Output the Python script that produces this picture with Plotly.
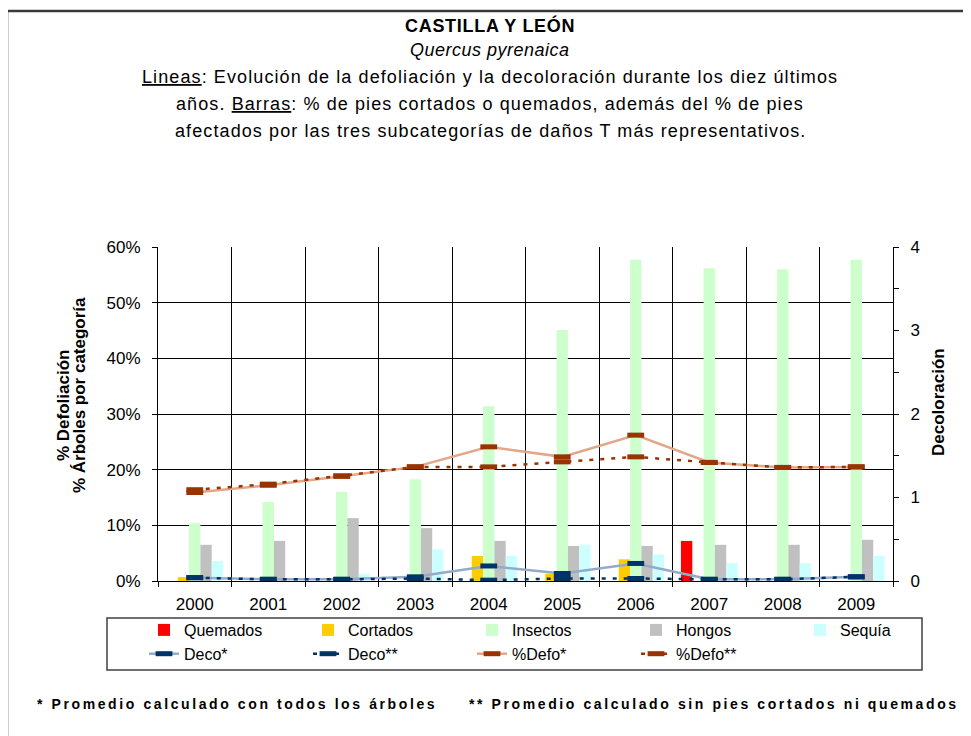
import plotly.graph_objects as go

# ---------------- data ----------------
years = ["2000", "2001", "2002", "2003", "2004", "2005", "2006", "2007", "2008", "2009"]

quemados = [0, 0, 0, 0, 0, 0, 0, 7.2, 0, 0]
cortados = [0.7, 0, 0, 0, 4.5, 1.3, 3.9, 0, 0, 0]
insectos = [10.4, 14.2, 16.0, 18.3, 31.4, 45.1, 57.7, 56.2, 56.0, 57.7]
hongos = [6.5, 7.2, 11.3, 9.5, 7.2, 6.3, 6.3, 6.5, 6.5, 7.4]
sequia = [3.6, 0, 1.3, 5.7, 4.5, 6.5, 4.8, 3.2, 3.2, 4.5]

deco_all = [0.04, 0.02, 0.02, 0.05, 0.18, 0.09, 0.21, 0.02, 0.02, 0.05]
deco_sin = [0.04, 0.02, 0.02, 0.03, 0.01, 0.03, 0.03, 0.02, 0.02, 0.05]
defo_all = [15.9, 17.2, 18.8, 20.5, 24.1, 22.3, 26.2, 21.3, 20.4, 20.5]
defo_sin = [16.4, 17.4, 18.9, 20.5, 20.5, 21.4, 22.3, 21.3, 20.4, 20.5]

left_ticks = [0, 10, 20, 30, 40, 50, 60]
left_labels = [f"{v}%" for v in left_ticks]
right_ticks = [0, 1, 2, 3, 4]

# ---------------- layout geometry (screen px; page body has 8px margin) ----------------
OFF = 8
FW, FH = 971 - OFF, 736 - OFF
PLOT_L, PLOT_R, PLOT_T, PLOT_B = 158, 893, 247, 581
ML, MT = PLOT_L - OFF, PLOT_T - OFF
MR = FW - (PLOT_R - OFF)
MB = FH - (PLOT_B - OFF)
PW = PLOT_R - PLOT_L
PH = PLOT_B - PLOT_T


def px_x(px):
    return (px - PLOT_L) / PW


def px_y(py):
    return (PLOT_B - py) / PH


FONT = "Arial, Liberation Sans, sans-serif"

fig = go.Figure()

bar_specs = [
    ("Quemados", quemados, "#FF0000"),
    ("Cortados", cortados, "#FFCC00"),
    ("Insectos", insectos, "#CCFFCC"),
    ("Hongos", hongos, "#C0C0C0"),
    ("Sequía", sequia, "#CCFFFF"),
]
for name, vals, col in bar_specs:
    fig.add_trace(go.Bar(x=years, y=vals, name=name, marker=dict(color=col, line=dict(width=0)),
                         yaxis="y"))

marker_navy = dict(symbol="line-ew", size=12, line=dict(width=5, color="#003366"))
marker_brown = dict(symbol="line-ew", size=12, line=dict(width=5, color="#993300"))

fig.add_trace(go.Scatter(x=years, y=deco_all, name="Deco*", mode="lines+markers",
                         line=dict(color="#93ABC9", width=2.5), marker=marker_navy, yaxis="y2"))
fig.add_trace(go.Scatter(x=years, y=deco_sin, name="Deco**", mode="lines+markers",
                         line=dict(color="#003366", width=2.5, dash="4px,7px"), marker=marker_navy,
                         yaxis="y2"))
fig.add_trace(go.Scatter(x=years, y=defo_all, name="%Defo*", mode="lines+markers",
                         line=dict(color="#E2A68A", width=2.5), marker=marker_brown, yaxis="y"))
fig.add_trace(go.Scatter(x=years, y=defo_sin, name="%Defo**", mode="lines+markers",
                         line=dict(color="#993300", width=2.5, dash="4px,7px"), marker=marker_brown,
                         yaxis="y"))

annotations = []
title_style = "letter-spacing:1.1px"
title_lines = [
    ("<b>CASTILLA Y LEÓN</b>", 25, 0.7),
    ("<i>Quercus pyrenaica</i>", 50, 0.5),
    ("<u>Lineas</u>: Evolución de la defoliación y la decoloración durante los diez últimos", 77, 1.1),
    ("años. <u>Barras</u>: % de pies cortados o quemados, además del % de pies", 104, 1.1),
    ("afectados por las tres subcategorías de daños T más representativos.", 131, 1.1),
]
for txt, py, ls in title_lines:
    annotations.append(dict(text=f"<span style='letter-spacing:{ls}px'>{txt}</span>",
                            x=px_x(490), y=px_y(py), xref="paper", yref="paper",
                            xanchor="center", yanchor="middle", showarrow=False,
                            font=dict(family=FONT, size=18, color="black")))

# axis titles
annotations.append(dict(text="<b>% Defoliación</b>", x=px_x(63), y=px_y(406), xref="paper", yref="paper",
                        textangle=-90, showarrow=False, xanchor="center", yanchor="middle",
                        font=dict(family=FONT, size=17, color="black")))
annotations.append(dict(text="<b>% Árboles por categoría</b>", x=px_x(79), y=px_y(395), xref="paper",
                        yref="paper", textangle=-90, showarrow=False, xanchor="center",
                        yanchor="middle", font=dict(family=FONT, size=17, color="black")))
annotations.append(dict(text="<b>Decoloración</b>", x=px_x(938), y=px_y(402), xref="paper", yref="paper",
                        textangle=-90, showarrow=False, xanchor="center", yanchor="middle",
                        font=dict(family=FONT, size=17, color="black")))

# footnotes
foot_style = "letter-spacing:2.6px"
annotations.append(dict(text=f"<span style='{foot_style}'><b>* Promedio calculado con todos los árboles</b></span>",
                        x=px_x(35), y=px_y(704), xref="paper", yref="paper", xanchor="left",
                        yanchor="middle", showarrow=False, font=dict(family=FONT, size=14, color="black")))
annotations.append(dict(text=f"<span style='{foot_style}'><b>** Promedio calculado sin pies cortados ni quemados</b></span>",
                        x=px_x(467), y=px_y(704), xref="paper", yref="paper", xanchor="left",
                        yanchor="middle", showarrow=False, font=dict(family=FONT, size=14, color="black")))

shapes = [
    # legend box
    dict(type="rect", xref="paper", yref="paper", x0=px_x(107), x1=px_x(922), y0=px_y(670), y1=px_y(618),
         line=dict(color="#404040", width=1.5), fillcolor="rgba(0,0,0,0)", layer="above"),
    # outer frame (top and left edges)
    dict(type="line", xref="paper", yref="paper", x0=px_x(7), x1=px_x(975), y0=px_y(11), y1=px_y(11),
         line=dict(color="#3a3a3a", width=2.5)),
    dict(type="line", xref="paper", yref="paper", x0=px_x(7), x1=px_x(7), y0=px_y(11), y1=px_y(740),
         line=dict(color="#3a3a3a", width=2.5)),
]

fig.update_layout(
    width=FW, height=FH,
    margin=dict(l=ML, r=MR, t=MT, b=MB, pad=0),
    paper_bgcolor="white", plot_bgcolor="white",
    font=dict(family=FONT, size=16, color="black"),
    barmode="group", bargap=0.23, bargroupgap=0,
    showlegend=True,
    legend=dict(orientation="h", x=px_x(144), xanchor="left", y=px_y(613), yanchor="top",
                entrywidth=119, entrywidthmode="pixels", bgcolor="rgba(0,0,0,0)",
                font=dict(family=FONT, size=16, color="black"), traceorder="normal",
                tracegroupgap=0),
    xaxis=dict(type="category", tickson="boundaries", ticks="outside", ticklen=5, tickcolor="black",
               showgrid=True, gridcolor="black", gridwidth=1, showline=True, linecolor="black",
               linewidth=1, tickfont=dict(size=17), range=[-0.5, 9.5], ticklabelstandoff=8),
    yaxis=dict(range=[0, 60], tickvals=left_ticks, ticktext=left_labels, ticks="outside", ticklen=5,
               tickcolor="black", showgrid=True, gridcolor="black", gridwidth=1, showline=True,
               linecolor="black", linewidth=1, zeroline=False, tickfont=dict(size=17),
               ticklabelstandoff=8),
    yaxis2=dict(range=[0, 4], tickvals=right_ticks, overlaying="y", side="right", ticks="outside",
                ticklen=5, tickcolor="black", showgrid=False, showline=True, linecolor="black",
                linewidth=1, zeroline=False, tickfont=dict(size=17), ticklabelstandoff=8,
                minor=dict(dtick=0.5, ticks="outside", ticklen=5, tickcolor="black", showgrid=False)),
    annotations=annotations,
    shapes=shapes,
)

fig.write_html("out.html")
